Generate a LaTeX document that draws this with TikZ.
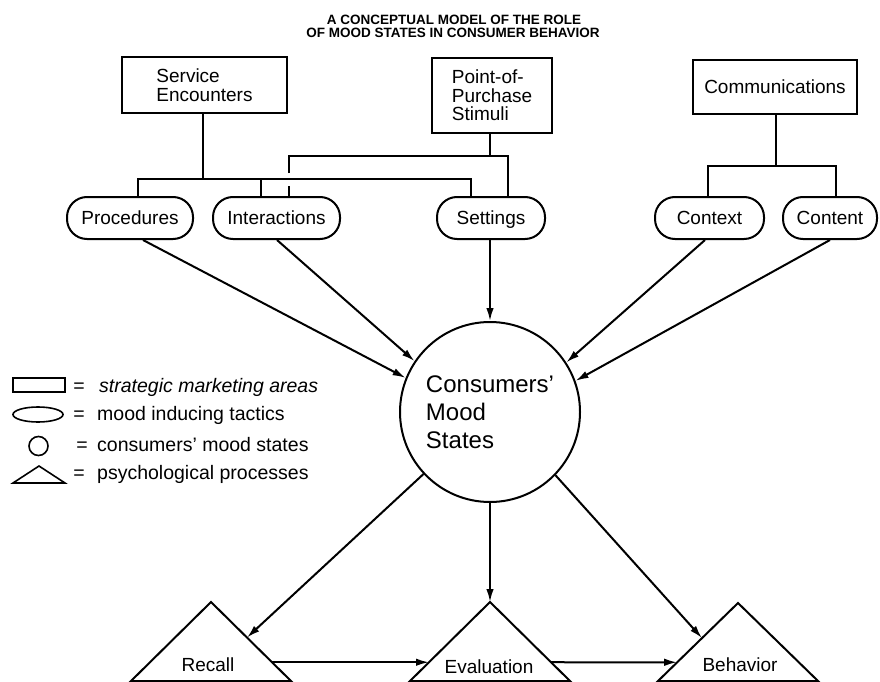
\documentclass[tikz,border=0pt]{standalone}
\usepackage{fontspec}
\setmainfont{Liberation Sans}
\usetikzlibrary{arrows.meta,calc,shapes.geometric}
\begin{document}
\begin{tikzpicture}[x=1pt,y=-1pt,
  box/.style={draw,line width=2pt,rectangle,inner sep=0pt,align=left,font=\fontsize{19}{18.5}\selectfont},
  pill/.style={draw,line width=2pt,rectangle,rounded corners=20pt,minimum height=42pt,inner sep=0pt,
               text height=13.6pt,text depth=0pt,font=\fontsize{19}{19}\selectfont},
  conn/.style={line width=2pt},
  arr/.style={line width=2pt,-{Latex[length=13pt,width=7.5pt]}},
  tri/.style={line width=2pt,line join=miter},
  tlabel/.style={anchor=base,inner sep=0pt,font=\fontsize{19}{19}\selectfont},
  legtxt/.style={anchor=base west,inner sep=0pt,font=\fontsize{19.5}{20}\selectfont},
  legeq/.style={anchor=base,inner sep=0pt,font=\fontsize{19.5}{20}\selectfont},
  legshape/.style={draw,line width=1.6pt,inner sep=0pt},
  ttl/.style={anchor=base,inner sep=0pt,font=\bfseries\fontsize{13.5}{14}\selectfont}
  ]
\fill[white] (0,0) rectangle (880,682);
\useasboundingbox (0,0) rectangle (880,682);

% title
\node[ttl] (t1) at (454,25) {A CONCEPTUAL MODEL OF THE ROLE};
\node[ttl] (t2) at (453,38) {OF MOOD STATES IN CONSUMER BEHAVIOR};

% strategic marketing areas
\node[box,minimum width=165pt,minimum height=56pt] (se) at (204.5,85) {Service\\Encounters};
\node[box,minimum width=120pt,minimum height=75pt] (pop) at (492,95.5) {Point-of-\\Purchase\\Stimuli};
\node[box,minimum width=164pt,minimum height=54pt] (com) at (775,87) {Communications};

% mood inducing tactics
\node[pill,minimum width=126pt] (proc) at (130,218) {Procedures};
\node[pill,minimum width=127pt] (inter) at (276.5,218) {Interactions};
\node[pill,minimum width=108pt] (set) at (491,218) {Settings};
\node[pill,minimum width=109pt] (ctx) at (709.5,218) {Context};
\node[pill,minimum width=94pt] (cnt) at (830,218) {Content};

% mood states
\node[draw,circle,line width=2pt,minimum size=180pt,inner sep=0pt,align=left,
      font=\fontsize{24}{28}\selectfont] (mood) at (490,412) {Consumers'\\Mood\\States};

% tree connectors
\coordinate (b1L) at (138,179);
\coordinate (b1M) at (203,179);
\coordinate (b1I) at (261,179);
\coordinate (b1R) at (471,179);
\draw[conn] (se.south -| b1M) -- (b1M);
\draw[conn] (b1L |- proc.north) -- (b1L) -- (b1R) -- (b1R |- set.north);
\draw[conn] (b1I) -- (b1I |- inter.north);

\coordinate (b2L) at (289,156);
\coordinate (b2M) at (490,156);
\coordinate (b2R) at (508,156);
\coordinate (gapA) at (289,173);
\coordinate (gapB) at (289,186);
\draw[conn] (pop.south -| b2M) -- (b2M);
\draw[conn] (gapA) -- (b2L) -- (b2R) -- (b2R |- set.north);
\draw[conn] (gapB) -- (gapB |- inter.north);

\coordinate (b3L) at (708,166);
\coordinate (b3M) at (776,166);
\coordinate (b3R) at (836,166);
\draw[conn] (com.south -| b3M) -- (b3M);
\draw[conn] (b3L |- ctx.north) -- (b3L) -- (b3R) -- (b3R |- cnt.north);

% arrows into the mood circle
\draw[arr] ([xshift=13pt]proc.south) -- (mood.158);
\draw[arr] ([xshift=0.5pt]inter.south) -- (mood.146);
\draw[arr] ([xshift=-1pt]set.south) -- (mood.north);
\draw[arr] ([xshift=-4.5pt]ctx.south) -- (mood.33);
\draw[arr] (cnt.south) -- (mood.20);

% psychological processes
\coordinate (rA) at (211,602); \coordinate (rL) at (131,681); \coordinate (rR) at (291,681);
\coordinate (eA) at (490,602); \coordinate (eL) at (410,681); \coordinate (eR) at (570,681);
\coordinate (bA) at (738,603); \coordinate (bL) at (658,681); \coordinate (bR) at (818,681);
\draw[tri] (rA) -- (rR) -- (rL) -- cycle;
\draw[tri] (eA) -- (eR) -- (eL) -- cycle;
\draw[tri] (bA) -- (bR) -- (bL) -- cycle;
\node[tlabel] (recall) at (208,671) {Recall};
\node[tlabel] (eval) at (489,673) {Evaluation};
\node[tlabel] (behav) at (740,671) {Behavior};

\coordinate (rIn) at ($(rA)!0.45!(rR)$);
\coordinate (bIn) at ($(bA)!0.45!(bL)$);
\coordinate (rH) at ($(rA)!0.7625!(rR)$);
\coordinate (eHL) at ($(eA)!0.7625!(eL)$);
\coordinate (eHR) at ($(eA)!0.7625!(eR)$);
\coordinate (bH) at ($(bA)!0.76!(bL)$);

\draw[arr] (mood.223.6) -- (rIn);
\draw[arr] (mood.south) -- (eA);
\draw[arr] (mood.316.4) -- (bIn);
\draw[arr] (rH) -- (eHL);
\draw[arr] (eHR) -- (bH);

% legend
\node[legshape,rectangle,minimum width=52pt,minimum height=14pt] (lrect) at (39,385) {};
\node[legshape,ellipse,minimum width=50pt,minimum height=15pt] (lell) at (38,414.5) {};
\node[legshape,circle,minimum size=19pt] (lcirc) at (38.5,446) {};
\draw[line width=1.6pt,line join=miter] (13,483) -- (39,466) -- (65,483) -- cycle;

\node[legeq] (e1) at (79,392) {=};
\node[legeq] (e2) at (79,420) {=};
\node[legeq] (e3) at (82,451) {=};
\node[legeq] (e4) at (79,479) {=};
\node[legtxt] (l1) at (99,392) {\itshape strategic marketing areas};
\node[legtxt] (l2) at (97,420) {mood inducing tactics};
\node[legtxt] (l3) at (97,451) {consumers' mood states};
\node[legtxt] (l4) at (97,479) {psychological processes};
\end{tikzpicture}
\end{document}
